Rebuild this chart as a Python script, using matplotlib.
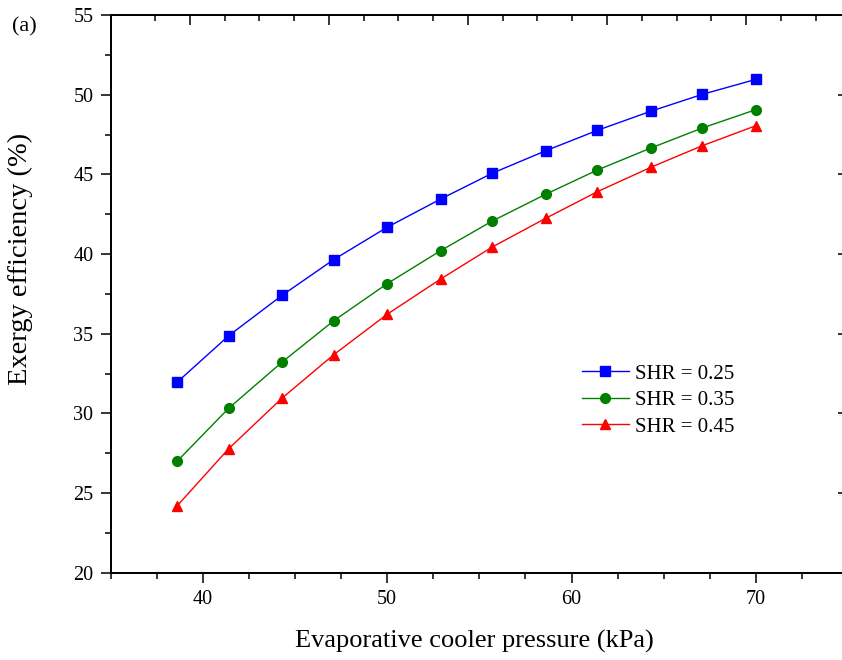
import matplotlib
matplotlib.use("Agg")
import matplotlib.pyplot as plt
from matplotlib.ticker import MultipleLocator, FixedLocator, NullFormatter

plt.rcParams['font.family'] = ['Liberation Serif', 'DejaVu Serif']

# Evaporative cooler pressure (kPa)
pressure = [38.6, 41.4, 44.3, 47.1, 50.0, 52.9, 55.7, 58.6, 61.4, 64.3, 67.1, 70.0]

# Exergy efficiency (%) for each sensible heat ratio
eff_shr_025 = [31.95, 34.87, 37.41, 39.65, 41.68, 43.45, 45.07, 46.48, 47.76, 48.96, 50.02, 50.96]
eff_shr_035 = [26.99, 30.32, 33.22, 35.81, 38.14, 40.21, 42.07, 43.75, 45.27, 46.65, 47.91, 49.06]
eff_shr_045 = [24.19, 27.78, 30.96, 33.68, 36.22, 38.43, 40.44, 42.24, 43.91, 45.44, 46.80, 48.05]

series_labels = ['SHR = 0.25', 'SHR = 0.35', 'SHR = 0.45']

W, H = 842, 660
fig = plt.figure(figsize=(W / 100, H / 100), dpi=100)

# axes frame in pixels: left 110.7, right 848 (beyond canvas), top 15, bottom 572.7
left_px, right_px, top_px, bottom_px = 110.7, 848.0, 15.0, 572.7
ax = fig.add_axes([left_px / W, 1 - bottom_px / H,
                   (right_px - left_px) / W, (bottom_px - top_px) / H])

ax.plot(pressure, eff_shr_025, color='#0000ff', lw=1.0, marker='s', ms=6.5,
        mec='#0000ff', mfc='#0000ff', label=series_labels[0])
ax.plot(pressure, eff_shr_035, color='#008000', lw=1.0, marker='o', ms=7.0,
        mec='#008000', mfc='#008000', label=series_labels[1])
ax.plot(pressure, eff_shr_045, color='#ff0000', lw=1.0, marker='^', ms=7.8,
        mec='#ff0000', mfc='#ff0000', label=series_labels[2])

ax.set_xlim(35, 75)
ax.set_ylim(20, 55)

ax.xaxis.set_major_locator(FixedLocator([40, 50, 60, 70]))
ax.xaxis.set_minor_locator(MultipleLocator(2.5))
ax.yaxis.set_major_locator(MultipleLocator(5))
ax.yaxis.set_minor_locator(MultipleLocator(2.5))

ax.tick_params(axis='both', which='major', direction='out', length=7.5, width=1.1,
               labelsize=14.5, pad=5)
ax.tick_params(axis='both', which='minor', direction='out', length=4, width=1.1)
ax.tick_params(axis='both', which='both', top=False, right=False)
for sp in ax.spines.values():
    sp.set_linewidth(1.1)

# right-hand mirrored ticks point inward
ax2 = ax.twinx()
ax2.set_ylim(ax.get_ylim())
ax2.yaxis.set_major_locator(MultipleLocator(5))
ax2.yaxis.set_minor_locator(MultipleLocator(2.5))
ax2.yaxis.set_major_formatter(NullFormatter())
ax2.tick_params(axis='y', which='major', direction='in', length=7.5, width=1.1, labelright=False)
ax2.tick_params(axis='y', which='minor', direction='in', length=4, width=1.1)
ax2.tick_params(axis='x', which='both', top=False, bottom=False,
                labeltop=False, labelbottom=False)
for sp in ax2.spines.values():
    sp.set_linewidth(1.1)

# top axis carries its own evenly spaced ticks, pointing inward
top_major = [39.30, 46.84, 54.38, 61.93, 69.47]
top_minor = [37.41, 41.19, 43.07, 44.96, 48.73, 50.61, 52.50, 56.27, 58.15, 60.04,
             63.81, 65.70, 67.58, 71.35, 73.24]
ax3 = ax.twiny()
ax3.set_xlim(ax.get_xlim())
ax3.xaxis.set_major_locator(FixedLocator(top_major))
ax3.xaxis.set_minor_locator(FixedLocator(top_minor))
ax3.xaxis.set_major_formatter(NullFormatter())
ax3.tick_params(axis='x', which='major', direction='in', length=7.5, width=1.1,
                top=True, bottom=False, labeltop=False, labelbottom=False)
ax3.tick_params(axis='x', which='minor', direction='in', length=4, width=1.1,
                top=True, bottom=False)
ax3.tick_params(axis='y', which='both', left=False, right=False,
                labelleft=False, labelright=False)
for sp in ax3.spines.values():
    sp.set_linewidth(1.1)

ax.set_xlabel('Evaporative cooler pressure (kPa)', fontsize=19)
ax.xaxis.set_label_coords(0.4928, -0.103)
ax.set_ylabel('Exergy efficiency (%)', fontsize=20.5)
ax.yaxis.set_label_coords(-0.106, 0.562)

fig.text(12 / W, 1 - 27 / H, '(a)', fontsize=16, ha='left', va='center')

handles, labels = ax.get_legend_handles_labels()
leg = fig.legend(handles, labels, loc='upper left',
                 bbox_to_anchor=(582 / W, 1 - 364 / H), bbox_transform=fig.transFigure,
                 frameon=False, fontsize=15, borderpad=0, borderaxespad=0,
                 handlelength=2.25, handletextpad=0.3, labelspacing=0.33)

fig.savefig('out.png', dpi=100)
